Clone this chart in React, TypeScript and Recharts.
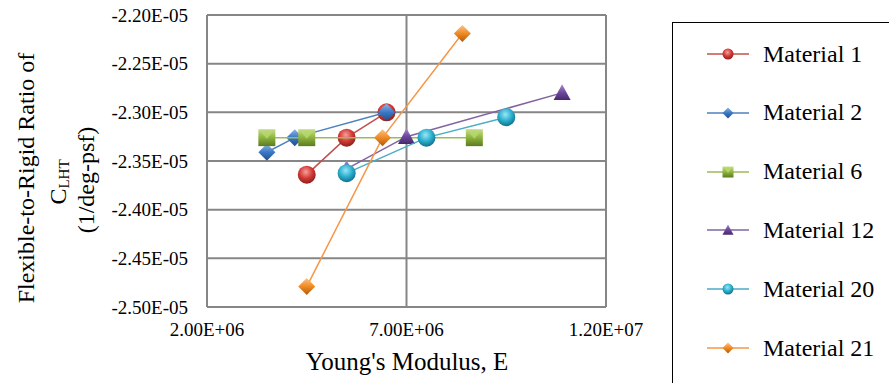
import React from "react";
import { ScatterChart, Scatter, XAxis, YAxis, CartesianGrid } from "recharts";

// Young's modulus (x) and flexible-to-rigid C_LHT ratio (y) per material
const material1E = [4.5e6, 5.5e6, 6.5e6];
const material1C = [-2.364e-5, -2.326e-5, -2.3e-5];
const material2E = [3.5e6, 4.2e6, 6.5e6];
const material2C = [-2.341e-5, -2.326e-5, -2.3e-5];
const material6E = [3.5e6, 4.5e6, 8.7e6];
const material6C = [-2.326e-5, -2.326e-5, -2.326e-5];
const material12E = [5.5e6, 7.0e6, 10.9e6];
const material12C = [-2.358e-5, -2.325e-5, -2.28e-5];
const material20E = [5.5e6, 7.5e6, 9.5e6];
const material20C = [-2.3625e-5, -2.326e-5, -2.305e-5];
const material21E = [4.5e6, 6.4e6, 8.4e6];
const material21C = [-2.479e-5, -2.326e-5, -2.219e-5];

const xTicks = [2e6, 7e6, 1.2e7];
const yTicks = [-2.5e-5, -2.45e-5, -2.4e-5, -2.35e-5, -2.3e-5, -2.25e-5, -2.2e-5];

type Kind = "circle" | "diamond" | "square" | "triangle";

const toPoints = (xs: number[], ys: number[]) => xs.map((x, i) => ({ x, y: ys[i] }));

const series = [
  { id: "m1", name: "Material 1", data: toPoints(material1E, material1C), line: "#C0504D", fill: "#D23A36", light: "#F6A09A", dark: "#8E1E1B", kind: "circle" as Kind },
  { id: "m2", name: "Material 2", data: toPoints(material2E, material2C), line: "#4F81BD", fill: "#3A78C6", light: "#8DB6EA", dark: "#1F4F8A", kind: "diamond" as Kind },
  { id: "m6", name: "Material 6", data: toPoints(material6E, material6C), line: "#9BBB59", fill: "#8DB43C", light: "#C8E08A", dark: "#5C7A22", kind: "square" as Kind },
  { id: "m12", name: "Material 12", data: toPoints(material12E, material12C), line: "#8064A2", fill: "#6E4A9E", light: "#A98ACC", dark: "#46286E", kind: "triangle" as Kind },
  { id: "m20", name: "Material 20", data: toPoints(material20E, material20C), line: "#4BACC6", fill: "#2AAFCF", light: "#9BE6F6", dark: "#13708A", kind: "circle" as Kind },
  { id: "m21", name: "Material 21", data: toPoints(material21E, material21C), line: "#F79646", fill: "#F08A22", light: "#FBC48A", dark: "#B05A0C", kind: "diamond" as Kind },
];

const sci = (v: number) => {
  const [m, e] = v.toExponential(2).split("e");
  const n = parseInt(e, 10);
  return `${m}E${n < 0 ? "-" : "+"}${String(Math.abs(n)).padStart(2, "0")}`;
};

const FONT = "Liberation Serif, Tinos, DejaVu Serif, serif";

function Marker({ kind, id, cx, cy, s }: { kind: Kind; id: string; cx: number; cy: number; s: number }) {
  const h = s / 2;
  const fill = kind === "circle" ? `url(#rg-${id})` : `url(#lg-${id})`;
  if (kind === "circle") return <circle cx={cx} cy={cy} r={h} fill={fill} />;
  if (kind === "diamond")
    return <polygon points={`${cx},${cy - h} ${cx + h},${cy} ${cx},${cy + h} ${cx - h},${cy}`} fill={fill} />;
  if (kind === "square")
    return (
      <g>
        <rect x={cx - h} y={cy - h} width={s} height={s} fill={fill} />
        <polygon points={`${cx - h + 2},${cy - h + 2} ${cx + h - 2},${cy - h + 2} ${cx},${cy + 1}`} fill="#B8D870" opacity={0.8} />
      </g>
    );
  return <polygon points={`${cx},${cy - h} ${cx + h},${cy + h * 0.85} ${cx - h},${cy + h * 0.85}`} fill={fill} />;
}

function GradientDefs() {
  return (
    <defs>
      {series.map((s) => (
        <React.Fragment key={s.id}>
          <radialGradient id={`rg-${s.id}`} cx="45%" cy="35%" r="65%">
            <stop offset="0%" stopColor={s.light} />
            <stop offset="55%" stopColor={s.fill} />
            <stop offset="100%" stopColor={s.dark} />
          </radialGradient>
          <linearGradient id={`lg-${s.id}`} x1="0" y1="0" x2="0" y2="1">
            <stop offset="0%" stopColor={s.light} />
            <stop offset="50%" stopColor={s.fill} />
            <stop offset="100%" stopColor={s.dark} />
          </linearGradient>
        </React.Fragment>
      ))}
    </defs>
  );
}

function YLabel() {
  return (
    <g fontFamily={FONT} fill="#000" textAnchor="middle">
      <text x={26} y={178} fontSize={24} dominantBaseline="central" transform="rotate(-90 26 178)">
        Flexible-to-Rigid Ratio of
      </text>
      <text x={58} y={182} fontSize={24} dominantBaseline="central" transform="rotate(-90 58 182)">
        C<tspan fontSize={15} dy={6}>LHT</tspan>
      </text>
      <text x={86} y={180} fontSize={24} dominantBaseline="central" transform="rotate(-90 86 180)">
        (1/deg-psf)
      </text>
    </g>
  );
}

function Legend() {
  return (
    <div
      style={{
        position: "absolute",
        left: 672,
        top: 22,
        width: 260,
        height: 400,
        border: "1.5px solid #000",
        boxSizing: "border-box",
        background: "#fff",
        fontFamily: FONT,
        fontSize: 24,
      }}
    >
      {series.map((s, i) => (
        <div key={s.id} style={{ position: "absolute", left: 0, top: 31 + i * 58.8 - 15, height: 30, display: "flex", alignItems: "center" }}>
          <svg width={90} height={30} style={{ display: "block" }}>
            <line x1={34} x2={76} y1={15} y2={15} stroke={s.line} strokeWidth={1.5} />
            <Marker kind={s.kind} id={s.id} cx={55} cy={15} s={11} />
          </svg>
          <span style={{ color: "#000", whiteSpace: "nowrap" }}>{s.name}</span>
        </div>
      ))}
    </div>
  );
}

export default function App() {
  return (
    <div style={{ position: "absolute", left: 0, top: 0, width: 889, height: 383, background: "#fff" }}>
      <ScatterChart width={889} height={383} margin={{ top: 15, right: 283, bottom: 0, left: 0 }}>
        <GradientDefs />
        <CartesianGrid stroke="#868686" strokeWidth={2} horizontalValues={yTicks} verticalValues={xTicks} />
        <XAxis
          type="number"
          dataKey="x"
          domain={[2e6, 1.2e7]}
          ticks={xTicks}
          tickFormatter={sci}
          height={76}
          axisLine={false}
          tickLine={false}
          tickSize={0}
          tickMargin={16}
          tick={{ fontFamily: FONT, fontSize: 19, fill: "#000" }}
          interval={0}
          allowDataOverflow
        />
        <YAxis
          type="number"
          dataKey="y"
          domain={[-2.5e-5, -2.2e-5]}
          ticks={yTicks}
          tickFormatter={sci}
          width={207}
          axisLine={false}
          tickLine={false}
          tickSize={0}
          tickMargin={19}
          tick={{ fontFamily: FONT, fontSize: 19, fill: "#000" }}
          interval={0}
          allowDataOverflow
        />
        {series.map((s) => (
          <Scatter
            key={s.id}
            name={s.name}
            data={s.data}
            line={{ stroke: s.line, strokeWidth: 1.5 }}
            isAnimationActive={false}
            shape={(p: any) => <Marker kind={s.kind} id={s.id} cx={p.cx} cy={p.cy} s={s.kind === "circle" ? 18 : 17} />}
          />
        ))}
        <YLabel />
      </ScatterChart>
      <div
        style={{
          position: "absolute",
          left: 207,
          width: 400,
          top: 347,
          textAlign: "center",
          fontFamily: FONT,
          fontSize: 25,
          lineHeight: "30px",
          color: "#000",
        }}
      >
        Young's Modulus, E
      </div>
      <Legend />
    </div>
  );
}
